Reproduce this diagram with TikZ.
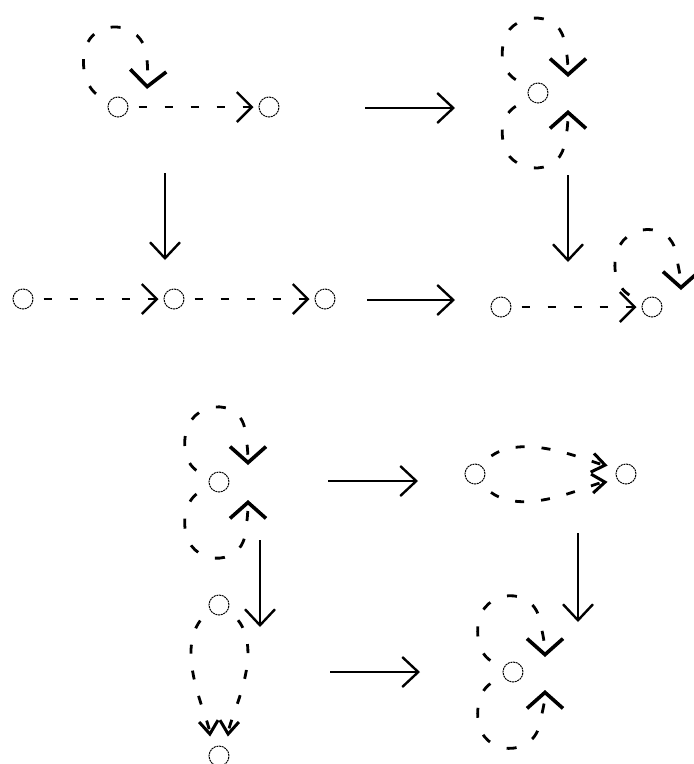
\documentclass[tikz,border=0pt]{standalone}
\usepackage{tikz}
\usetikzlibrary{arrows.meta, positioning}

\tikzset{
  vertex/.style={circle, draw, line width=1pt, dash pattern=on 2pt off 0.7pt, minimum size=20pt, inner sep=0pt},
  dashedge/.style={line width=2.8pt, dash pattern=on 8pt off 18pt, dash phase=16pt, shorten >=5pt, -{Straight Barb[length=15pt,width=30pt,line width=2.4pt]}},
  selfloop/.style={line width=2.8pt, dash pattern=on 10pt off 18pt, dash phase=12pt, -{Straight Barb[length=16pt,width=36pt,line width=3.6pt]}},
  paredge/.style={line width=2.8pt, dash pattern=on 9pt off 17pt, dash phase=12pt, -{Straight Barb[length=13pt,width=19pt,line width=3pt]}},
  bigarrow/.style={line width=2.6pt, -{Straight Barb[length=16pt,width=30pt,line width=2.4pt]}}
}

\begin{document}
\begin{tikzpicture}[x=1pt, y=-1pt, node distance=130pt]
\useasboundingbox (0,0) rectangle (694,764);

% top left
\node[vertex] (a1) at (118,107) {};
\node[vertex, right=of a1] (a2) {};
\draw[dashedge] (a1) -- (a2);
\draw[selfloop] (a1.north west) .. controls (84,98) and (78,60) .. (88,42) .. controls (98,22) and (135,20) .. (145,48) .. controls (148,60) and (148,75) .. (147,89);

% top right
\node[vertex] (b1) at (538,93) {};
\draw[selfloop] (b1.north west) .. controls (505,80) and (500,62) .. (503,45) .. controls (507,12) and (558,8) .. (564,40) .. controls (567,52) and (568,62) .. (568,77);
\draw[selfloop] (b1.south west) .. controls (505,106) and (500,124) .. (503,141) .. controls (507,174) and (558,178) .. (564,146) .. controls (567,134) and (568,124) .. (568,110);

% second row left
\node[vertex] (c1) at (23,299) {};
\node[vertex, right=of c1] (c2) {};
\node[vertex, right=of c2] (c3) {};
\draw[dashedge] (c1) -- (c2);
\draw[dashedge] (c2) -- (c3);

% second row right
\node[vertex] (d1) at (501,307) {};
\node[vertex, right=of d1] (d2) {};
\draw[dashedge] (d1) -- (d2);
\draw[selfloop] (d2.north west) .. controls (618,298) and (612,272) .. (616,256) .. controls (622,222) and (672,220) .. (676,254) .. controls (678,266) and (681,277) .. (681,290);

% third row left
\node[vertex] (e1) at (219,482) {};
\draw[selfloop] (e1.north west) .. controls (190,475) and (183,455) .. (185,438) .. controls (188,400) and (240,396) .. (245,430) .. controls (247,442) and (248,452) .. (248,465);
\draw[selfloop] (e1.south west) .. controls (190,489) and (183,512) .. (185,528) .. controls (188,566) and (240,568) .. (245,535) .. controls (247,523) and (248,512) .. (248,500);

% third row right
\node[vertex] (f1) at (475,474) {};
\node[vertex, right=of f1] (f2) {};
\draw[paredge, shorten >=8pt] (f1) .. controls (512,425) and (588,462) .. ([yshift=7pt]f2.west);
\draw[paredge, shorten >=8pt] (f1) .. controls (512,525) and (588,484) .. ([yshift=-7pt]f2.west);

% fourth row left
\node[vertex] (g1) at (219,605) {};
\node[vertex, below=of g1] (g2) {};
\draw[paredge, shorten >=9pt] (g1) .. controls (168,640) and (208,715) .. ([xshift=-8pt]g2.north);
\draw[paredge, shorten >=9pt] (g1) .. controls (272,640) and (230,715) .. ([xshift=8pt]g2.north);

% fourth row right
\node[vertex] (h1) at (513,672) {};
\draw[selfloop] (h1.north west) .. controls (482,665) and (476,642) .. (478,625) .. controls (482,588) and (535,585) .. (540,622) .. controls (543,634) and (545,645) .. (545,657);
\draw[selfloop] (h1.south west) .. controls (482,679) and (476,703) .. (478,720) .. controls (482,757) and (535,758) .. (540,722) .. controls (543,710) and (545,700) .. (545,690);

% moves between the graphs
\coordinate (AB1) at (365,108);
\coordinate (AB2) at (455,108);
\coordinate (AC1) at (165,173);
\coordinate (AC2) at (165,260);
\coordinate (BD1) at (568,175);
\coordinate (BD2) at (568,262);
\coordinate (CD1) at (367,300);
\coordinate (CD2) at (455,300);
\coordinate (EF1) at (328,481);
\coordinate (EF2) at (418,481);
\coordinate (EG1) at (260,540);
\coordinate (EG2) at (260,627);
\coordinate (FH1) at (578,533);
\coordinate (FH2) at (578,622);
\coordinate (GH1) at (330,672);
\coordinate (GH2) at (420,672);
\draw[bigarrow] (AB1) -- (AB2);
\draw[bigarrow] (AC1) -- (AC2);
\draw[bigarrow] (BD1) -- (BD2);
\draw[bigarrow] (CD1) -- (CD2);
\draw[bigarrow] (EF1) -- (EF2);
\draw[bigarrow] (EG1) -- (EG2);
\draw[bigarrow] (FH1) -- (FH2);
\draw[bigarrow] (GH1) -- (GH2);

\end{tikzpicture}
\end{document}
